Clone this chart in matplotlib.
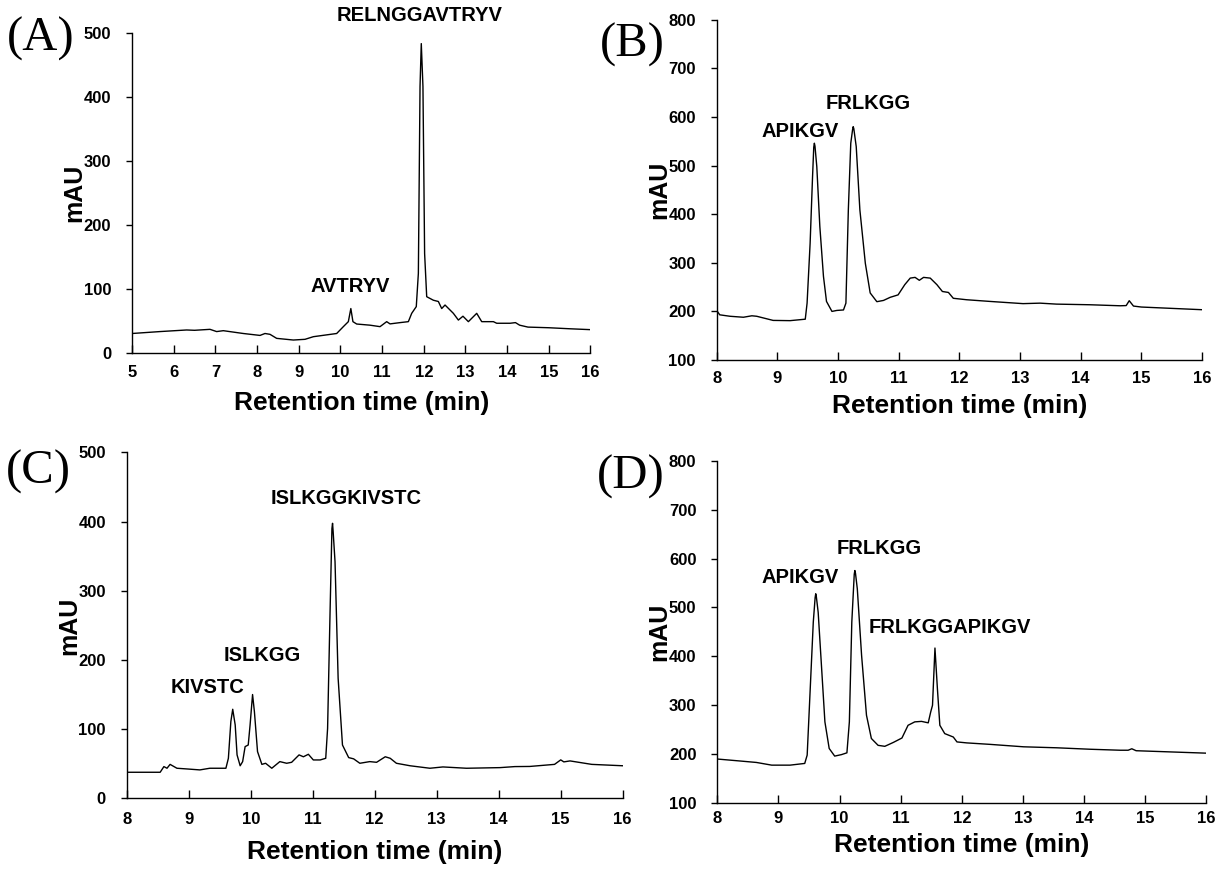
import numpy as np
import matplotlib
matplotlib.use('Agg')
import matplotlib.pyplot as plt

# (A) RELNGGAVTRYV digest
timeA = [5.0, 5.67, 6.31, 6.5, 6.87, 7.03, 7.19, 7.67, 8.07, 8.19, 8.31, 8.47, 8.87, 9.15,
         9.35, 9.91, 10.07, 10.19, 10.25, 10.30, 10.39, 10.71, 10.95, 11.11, 11.19, 11.43,
         11.63, 11.71, 11.82, 11.87, 11.91, 11.94, 11.98, 12.02, 12.07, 12.23, 12.35, 12.43,
         12.51, 12.71, 12.83, 12.94, 13.07, 13.27, 13.39, 13.67, 13.75, 14.07, 14.2, 14.3,
         14.5, 15.0, 15.5, 16.0]
mauA = [31, 34, 36.5, 36, 37.5, 34, 35.4, 31, 28, 31, 29.7, 23.4, 20.8, 21.9,
        26, 31, 41.7, 49.5, 70, 49.5, 45.8, 44, 41.7, 49.5, 46, 48,
        49.5, 62.5, 73, 125, 417, 484, 417, 156, 88.5, 83, 81, 70,
        75.5, 62.5, 52, 58, 49.5, 62.5, 49.5, 49.5, 47, 47, 48, 44,
        41, 40, 38.4, 37]

# (B) FRLKGGAPIKGV digest
timeB = [8.0, 8.05, 8.22, 8.44, 8.58, 8.66, 8.93, 9.21, 9.46, 9.49, 9.54, 9.58, 9.60, 9.61,
         9.62, 9.65, 9.70, 9.76, 9.81, 9.90, 9.98, 10.09, 10.13, 10.17, 10.21, 10.24, 10.25,
         10.26, 10.30, 10.36, 10.45, 10.53, 10.64, 10.75, 10.86, 10.99, 11.10, 11.19, 11.27,
         11.34, 11.41, 11.52, 11.63, 11.72, 11.82, 11.90, 12.12, 12.51, 13.05, 13.33, 13.60,
         14.15, 14.65, 14.75, 14.8, 14.87, 15.0, 16.0]
mauB = [202, 193, 190, 188, 191, 190, 181.5, 181, 184, 217, 340, 477, 538, 546,
        540, 498, 375, 272, 220.5, 200, 202, 203, 217, 409, 546, 574, 580,
        576, 539, 409, 299, 238, 220, 222.6, 229, 234, 255, 268.5, 270,
        264, 270, 268.5, 255, 241, 239, 227, 224, 220.5, 216, 217, 215,
        213.7, 211.6, 212, 222, 211, 209, 203.5]

# (C) ISLKGGKIVSTC digest
timeC = [8.0, 8.54, 8.60, 8.65, 8.70, 8.81, 8.97, 9.18, 9.34, 9.60, 9.64, 9.68, 9.71, 9.75,
         9.78, 9.83, 9.87, 9.91, 9.96, 9.99, 10.03, 10.06, 10.11, 10.18, 10.24, 10.34,
         10.47, 10.58, 10.66, 10.78, 10.85, 10.93, 11.01, 11.12, 11.21, 11.24, 11.28, 11.31,
         11.32, 11.33, 11.36, 11.41, 11.48, 11.58, 11.66, 11.76, 11.92, 12.03, 12.17, 12.25,
         12.35, 12.57, 12.89, 13.10, 13.48, 14.02, 14.26, 14.5, 14.9, 15.0, 15.05, 15.15,
         15.5, 16.0]
mauC = [37.6, 37.6, 45.8, 43.4, 49, 43.4, 42.4, 41, 43.4, 43.4, 57.8, 111, 128.7, 106,
        62.7, 47, 53, 74.7, 77, 106, 150, 125, 67.5, 49, 50.6, 43.4,
        53, 50.6, 52, 62.7, 60, 63.6, 55.4, 55.4, 57.8, 101, 270, 390,
        397.6, 385, 342, 173.5, 77, 58.8, 57, 50.6, 53, 52, 60, 57.8,
        50.6, 47, 43.4, 45.3, 43.4, 44.3, 45.8, 46, 49, 55.5, 52.6, 54,
        49, 47]

# (D) mixture
timeD = [8.0, 8.37, 8.64, 8.89, 9.19, 9.43, 9.47, 9.52, 9.57, 9.60, 9.61, 9.62, 9.65, 9.71,
         9.76, 9.83, 9.92, 10.03, 10.12, 10.16, 10.20, 10.24, 10.25, 10.26, 10.29, 10.36,
         10.44, 10.52, 10.63, 10.74, 10.88, 11.02, 11.12, 11.23, 11.34, 11.45, 11.49, 11.52,
         11.56, 11.60, 11.64, 11.72, 11.86, 11.92, 12.08, 12.46, 13.01, 13.55, 14.10, 14.59,
         14.72, 14.78, 14.85, 16.0]
mauD = [190, 186, 183, 177.5, 177.5, 181, 198, 334, 470, 520, 528, 522, 490, 368,
        266, 211.6, 196, 199, 202.7, 266, 470, 568, 575.5, 570, 538, 402,
        279.6, 232, 218, 216, 224, 233, 259, 266, 267, 264, 286, 300,
        417, 334, 259, 242, 235, 225, 223, 220, 215, 213, 210, 208,
        208, 211, 207, 202]

# peak labels: text, time, mAU
labelsA = [("RELNGGAVTRYV", 11.9, 528), ("AVTRYV", 10.23, 104)]
labelsB = [("APIKGV", 9.37, 570), ("FRLKGG", 10.49, 627)]
labelsC = [("ISLKGGKIVSTC", 11.54, 434), ("ISLKGG", 10.18, 206), ("KIVSTC", 9.30, 160)]
labelsD = [("APIKGV", 9.36, 562), ("FRLKGG", 10.64, 621), ("FRLKGGAPIKGV", 11.81, 460)]

SANS = 'Liberation Sans'


def draw_panel(ax, t, v, labels, xlim, ylim, yticks, xpad, xlabpad):
    ax.plot(t, v, color='black', linewidth=1.0)
    ax.set_xlim(xlim)
    ax.set_ylim(ylim)
    ax.set_xticks(np.arange(xlim[0], xlim[1] + 1, 1))
    ax.set_yticks(yticks)
    for s in ['top', 'right']:
        ax.spines[s].set_visible(False)
    for s in ['left', 'bottom']:
        ax.spines[s].set_linewidth(1.0)
    # x ticks point up into the plot, y ticks point out
    ax.tick_params(axis='x', direction='in', length=6, width=1, labelsize=12, pad=xpad)
    ax.tick_params(axis='y', direction='out', length=4, width=1, labelsize=12, pad=11)
    for lab in ax.get_xticklabels() + ax.get_yticklabels():
        lab.set_fontfamily(SANS)
        lab.set_fontweight('bold')
    ax.set_xlabel("Retention time (min)", fontsize=19, fontweight='bold', family=SANS,
                  labelpad=xlabpad)
    ax.set_ylabel("mAU", fontsize=18, fontweight='bold', family=SANS, labelpad=-2)
    for txt, x, y in labels:
        ax.text(x, y, txt, ha='center', va='center', fontsize=14.5, fontweight='bold',
                family=SANS, clip_on=False)


fig = plt.figure(figsize=(12.17, 8.69), dpi=100)
axA = fig.add_axes([0.1085, 0.5934, 0.3767, 0.3682])
axB = fig.add_axes([0.5889, 0.5857, 0.3988, 0.3916])
axC = fig.add_axes([0.1041, 0.0814, 0.4076, 0.3979])
axD = fig.add_axes([0.5894, 0.0759, 0.4019, 0.3939])

draw_panel(axA, timeA, mauA, labelsA, (5, 16), (0, 500), np.arange(0, 501, 100), 8.5, 8)
draw_panel(axB, timeB, mauB, labelsB, (8, 16), (100, 800), np.arange(100, 801, 100), 8, 6)
draw_panel(axC, timeC, mauC, labelsC, (8, 16), (0, 500), np.arange(0, 501, 100), 10, 9)
draw_panel(axD, timeD, mauD, labelsD, (8, 16), (100, 800), np.arange(100, 801, 100), 6, 5)

# panel letters
for letter, x, y in [("(A)", 7, 39), ("(B)", 600, 45), ("(C)", 6, 472), ("(D)", 597, 477)]:
    fig.text(x / 1217, 1 - y / 869, letter, fontsize=35, family='Liberation Serif',
             ha='left', va='center')

fig.savefig("out.png", dpi=100)
